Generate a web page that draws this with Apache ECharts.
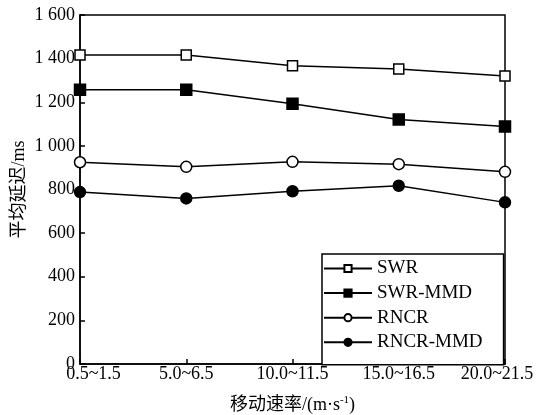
<!DOCTYPE html>
<html><head><meta charset="utf-8">
<script src="https://cdn.jsdelivr.net/npm/echarts@6/dist/echarts.min.js"></script>
<style>html,body{margin:0;padding:0;background:#fff}#c{width:539px;height:415px}</style>
</head><body><div id="c"></div>
<script>
const categories = ['0.5~1.5','5.0~6.5','10.0~11.5','15.0~16.5','20.0~21.5'];
const swr = [1417, 1417, 1367, 1352, 1320];
const swrMmd = [1257, 1257, 1193, 1121, 1089];
const rncr = [925, 904, 927, 916, 881];
const rncrMmd = [788, 759, 792, 817, 741];
const seriesNames = ['SWR','SWR-MMD','RNCR','RNCR-MMD'];

const font = '"Liberation Serif", "Times New Roman", serif';
const cjk = '"Liberation Serif", "Noto Sans CJK SC", serif';
function mk(name, data, symbol, filled, size) {
  return {
    name, type: 'line', data, symbol, symbolSize: size,
    lineStyle: {color: '#000', width: 1.5},
    itemStyle: {color: filled ? '#000' : '#fff', borderColor: '#000', borderWidth: 1.5},
    showAllSymbol: true, z: 3
  };
}
const lastIdx = categories.length - 1;
const chart = echarts.init(document.getElementById('c'), null, {renderer: 'canvas'});
chart.setOption({
  animation: false,
  backgroundColor: '#fff',
  grid: {left: 80, right: 34, top: 15, bottom: 51, containLabel: false, outerBoundsMode: 'none',
    show: true, borderColor: '#000', borderWidth: 1.5},
  xAxis: {
    type: 'category', data: categories, boundaryGap: false,
    axisLine: {lineStyle: {color: '#000', width: 1.5}},
    axisTick: {inside: true, length: 5, interval: 0, lineStyle: {color: '#000', width: 1.5}},
    axisLabel: {color: '#000', fontFamily: font, fontSize: 18, margin: 1, interval: 0, hideOverlap: false,
      formatter: (v, i) => i === 0 ? '{f|' + v + '}' : (i === lastIdx ? '{l|' + v + '}' : v),
      rich: {
        f: {fontFamily: font, fontSize: 18, color: '#000', padding: [0, 0, 0, 27]},
        l: {fontFamily: font, fontSize: 18, color: '#000', padding: [0, 16, 0, 0]}
      }},
    name: '移动速率/(m·s{sup|-1})', nameLocation: 'middle', nameGap: 31, nameMoveOverlap: false,
    nameTextStyle: {color: '#000', fontFamily: cjk, fontSize: 18,
      rich: {sup: {fontSize: 11, verticalAlign: 'top', fontFamily: font, color: '#000', padding: [0,0,9,0]}}}
  },
  yAxis: {
    type: 'value', min: 0, max: 1600, interval: 200,
    splitLine: {show: false},
    axisLine: {show: true, lineStyle: {color: '#000', width: 1.5}},
    axisTick: {show: true, inside: true, length: 5, lineStyle: {color: '#000', width: 1.5}},
    axisLabel: {color: '#000', fontFamily: font, fontSize: 18, margin: 5,
      formatter: v => v >= 1000 ? Math.floor(v/1000) + ' ' + String(v % 1000).padStart(3, '0') : String(v)},
    name: '平均延迟/ms', nameLocation: 'middle', nameGap: 52, nameRotate: 90, nameMoveOverlap: false,
    nameTextStyle: {color: '#000', fontFamily: cjk, fontSize: 18}
  },
  legend: {
    data: seriesNames, orient: 'vertical', left: 322, top: 254,
    itemWidth: 48, itemHeight: 9, itemGap: 5.6,
    padding: [5, 21, 13, 1],
    borderColor: '#000', borderWidth: 1.5, backgroundColor: '#fff',
    textStyle: {color: '#000', fontFamily: font, fontSize: 19}
  },
  series: [
    mk(seriesNames[0], swr, 'rect', false, 10),
    mk(seriesNames[1], swrMmd, 'rect', true, 11),
    mk(seriesNames[2], rncr, 'circle', false, 11),
    mk(seriesNames[3], rncrMmd, 'circle', true, 11)
  ]
});
</script></body></html>
